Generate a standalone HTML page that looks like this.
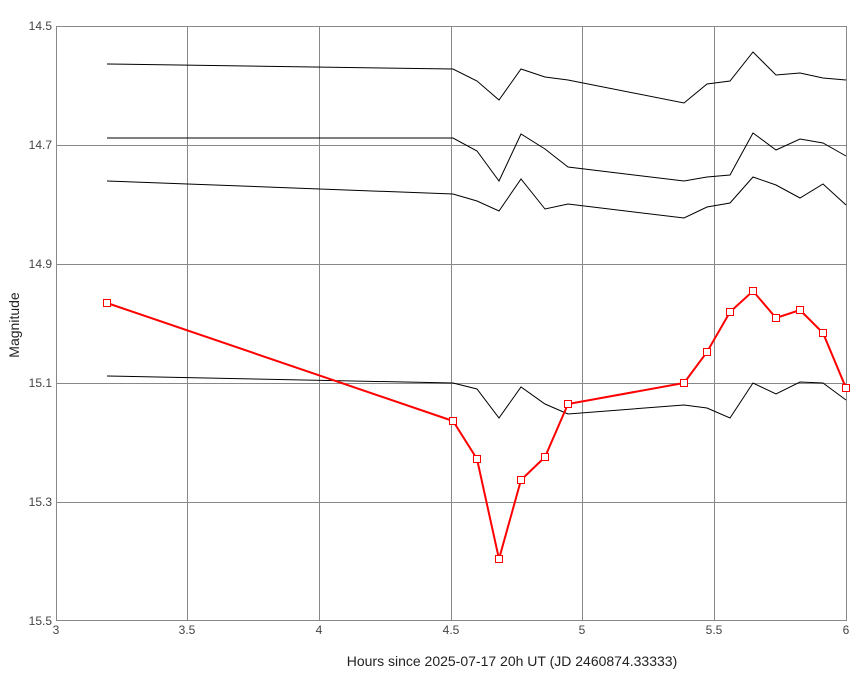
<!DOCTYPE html>
<html><head><style>body{margin:0;background:#fff}</style></head><body>
<svg width="867" height="679" xmlns="http://www.w3.org/2000/svg" font-family="Liberation Sans, sans-serif">
<rect width="867" height="679" fill="#fff"/>
<g stroke="#888" stroke-width="1">
<line x1="56.5" y1="26" x2="56.5" y2="621"/>
<line x1="187.5" y1="26" x2="187.5" y2="621"/>
<line x1="319.5" y1="26" x2="319.5" y2="621"/>
<line x1="451.5" y1="26" x2="451.5" y2="621"/>
<line x1="582.5" y1="26" x2="582.5" y2="621"/>
<line x1="714.5" y1="26" x2="714.5" y2="621"/>
<line x1="846.5" y1="26" x2="846.5" y2="621"/>
<line x1="56" y1="26.5" x2="846" y2="26.5"/>
<line x1="56" y1="145.5" x2="846" y2="145.5"/>
<line x1="56" y1="264.5" x2="846" y2="264.5"/>
<line x1="56" y1="383.5" x2="846" y2="383.5"/>
<line x1="56" y1="502.5" x2="846" y2="502.5"/>
<line x1="56" y1="620.5" x2="846" y2="620.5"/>
</g>
<g font-size="12" fill="#444" text-anchor="end">
<text x="52" y="30">14.5</text><text x="52" y="149">14.7</text><text x="52" y="268">14.9</text>
<text x="52" y="387">15.1</text><text x="52" y="506">15.3</text><text x="52" y="625">15.5</text>
</g>
<g font-size="12" fill="#444" text-anchor="middle">
<text x="56" y="634">3</text><text x="187" y="634">3.5</text><text x="319" y="634">4</text>
<text x="451" y="634">4.5</text><text x="582" y="634">5</text><text x="714" y="634">5.5</text><text x="846" y="634">6</text>
</g>
<text x="512" y="666" font-size="14" fill="#222" text-anchor="middle">Hours since 2025-07-17 20h UT (JD 2460874.33333)</text>
<text transform="translate(19,325) rotate(-90)" font-size="14" fill="#222" text-anchor="middle">Magnitude</text>
<g fill="none" stroke="#000" stroke-width="1">
<polyline points="107,64 453,69 477,81 499,100 521,69 545,77 568,80 684,103 707,84 730,81 753,52 776,75 800,73 823,78 846,80"/>
<polyline points="107,138 453,138 477,151 499,181 521,134 545,149 568,167 684,181 707,177 730,175 753,133 776,150 800,139 823,143 846,156"/>
<polyline points="107,181 453,194 477,201 499,211 521,179 545,209 568,204 684,218 707,207 730,203 753,177 776,185 800,198 823,184 846,205"/>
<polyline points="107,376 453,383 477,389 499,418 521,387 545,404 568,414 684,405 707,408 730,418 753,383 776,394 800,382 823,383 846,400"/>
</g>
<polyline fill="none" stroke="#f00" stroke-width="2" points="107,303 453,421 477,459 499,559 521,480 545,457 568,404 684,383 707,352 730,312 753,291 776,318 800,310 823,333 846,388"/>
<g fill="#fff" stroke="#f00" stroke-width="1">
<rect x="103.5" y="299.5" width="7" height="7"/><rect x="449.5" y="417.5" width="7" height="7"/><rect x="473.5" y="455.5" width="7" height="7"/><rect x="495.5" y="555.5" width="7" height="7"/><rect x="517.5" y="476.5" width="7" height="7"/><rect x="541.5" y="453.5" width="7" height="7"/><rect x="564.5" y="400.5" width="7" height="7"/><rect x="680.5" y="379.5" width="7" height="7"/><rect x="703.5" y="348.5" width="7" height="7"/><rect x="726.5" y="308.5" width="7" height="7"/><rect x="749.5" y="287.5" width="7" height="7"/><rect x="772.5" y="314.5" width="7" height="7"/><rect x="796.5" y="306.5" width="7" height="7"/><rect x="819.5" y="329.5" width="7" height="7"/><rect x="842.5" y="384.5" width="7" height="7"/>
</g>
</svg>
</body></html>
